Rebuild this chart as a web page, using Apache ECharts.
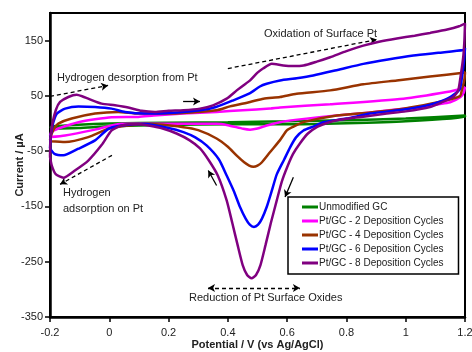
<!DOCTYPE html>
<html>
<head>
<meta charset="utf-8">
<script src="https://cdn.jsdelivr.net/npm/echarts@6/dist/echarts.min.js"></script>
<style>
  html, body { margin: 0; padding: 0; background: #fff; }
  #main { width: 472px; height: 352px; }
</style>
</head>
<body>
<div id="main"></div>
<script>
// cyclic voltammograms, each one a closed loop: anodic sweep (-0.2 -> 1.2 V) then cathodic sweep back
const seriesNames = [
  'Unmodified GC',
  'Pt/GC - 2 Deposition Cycles',
  'Pt/GC - 4 Deposition Cycles',
  'Pt/GC - 6 Deposition Cycles',
  'Pt/GC - 8 Deposition Cycles'
];
const seriesColors = ['#008000', '#ff00ff', '#993300', '#0000ff', '#800080'];

const unmodifiedGC = [
  [-0.2, -8], [-0.19, -5], [-0.104, -2], [0.0, 0], [0.2, 1.5], [0.4, 2.5], [0.6, 4], [0.8, 6], [1.0, 9], [1.2, 14.5],
  [1.2, 12], [1.0, 4], [0.8, 0.5], [0.6, -1.5], [0.4, -1.5], [0.2, -2.5], [0.0, -5], [-0.104, -8], [-0.2, -9]
];

const ptGC2 = [
  [-0.2, -22], [-0.195, -15], [-0.172, -9], [-0.104, 2.5], [0.008, 11.5], [0.098, 12], [0.15, 14.5], [0.25, 18],
  [0.362, 21], [0.45, 24], [0.542, 27], [0.576, 29], [0.745, 35], [0.992, 45], [1.138, 57], [1.194, 64], [1.2, 66],
  [1.196, 56], [1.185, 48], [1.15, 38.5], [1.06, 31], [0.992, 27], [0.88, 20], [0.767, 14.5], [0.65, 8], [0.576, 2.5],
  [0.531, -3.5], [0.5, -9], [0.475, -11], [0.452, -9.5], [0.4, -3], [0.362, -0.5], [0.25, -0.5], [0.15, -0.5],
  [0.042, -0.5], [-0.048, -11], [-0.149, -21.5], [-0.2, -24.5]
];

const ptGC4 = [
  [-0.2, -30], [-0.194, -18], [-0.185, -8], [-0.172, 0], [-0.127, 9], [-0.048, 18], [0.03, 21], [0.098, 18],
  [0.2, 18], [0.3, 21], [0.362, 24], [0.407, 31], [0.475, 39], [0.52, 45], [0.576, 48], [0.632, 54], [0.745, 60],
  [0.857, 71], [0.97, 78], [1.082, 85], [1.194, 92], [1.2, 93],
  [1.198, 80], [1.19, 62], [1.183, 50], [1.138, 42], [1.06, 33], [0.992, 27], [0.88, 20], [0.767, 14.5],
  [0.655, 2.5], [0.62, -6], [0.599, -12.5], [0.576, -30], [0.542, -52], [0.515, -70], [0.5, -76], [0.486, -78],
  [0.472, -76], [0.455, -70], [0.43, -58], [0.4, -42], [0.362, -27], [0.3, -12], [0.25, -6.5], [0.137, -1],
  [0.064, -3.5], [-0.003, -9.5], [-0.071, -24.5], [-0.149, -33.5], [-0.2, -32]
];

const ptGC6 = [
  [-0.2, -45], [-0.197, -20], [-0.19, 0], [-0.177, 18], [-0.149, 27], [-0.104, 31], [-0.048, 30], [0.008, 27],
  [0.053, 21], [0.12, 18], [0.2, 19], [0.306, 24], [0.36, 30], [0.418, 42], [0.475, 55], [0.508, 67], [0.531, 72],
  [0.576, 78], [0.632, 82], [0.688, 87], [0.77, 97], [0.857, 108], [0.94, 116], [1.026, 123], [1.11, 128],
  [1.194, 133], [1.2, 137],
  [1.197, 115], [1.19, 85], [1.182, 62], [1.15, 48], [1.1, 37], [1.048, 30], [0.96, 23], [0.88, 18], [0.8, 9],
  [0.722, 2.5], [0.69, -5], [0.655, -12.5], [0.63, -25], [0.61, -43], [0.59, -65], [0.565, -92], [0.548, -122],
  [0.531, -151], [0.515, -172], [0.502, -183], [0.488, -187], [0.474, -183], [0.46, -172], [0.441, -151],
  [0.42, -122], [0.396, -94], [0.37, -65], [0.329, -40], [0.29, -25], [0.25, -15.5], [0.2, -8], [0.12, -1],
  [0.042, -3.5], [-0.003, -9.5], [-0.048, -30.5], [-0.104, -45.5], [-0.155, -57.5], [-0.185, -55], [-0.2, -45]
];

const ptGC8 = [
  [-0.2, -60], [-0.198, -25], [-0.192, 0], [-0.18, 25], [-0.166, 39], [-0.138, 48], [-0.11, 52], [-0.09, 49],
  [-0.071, 45], [-0.026, 36], [0.019, 33], [0.064, 29], [0.109, 23], [0.154, 21], [0.2, 23], [0.25, 24],
  [0.306, 27], [0.35, 33], [0.396, 45], [0.43, 60], [0.452, 69], [0.475, 78], [0.5, 92], [0.52, 100],
  [0.548, 108], [0.587, 105], [0.62, 104], [0.655, 105], [0.7, 112], [0.745, 120], [0.8, 131], [0.857, 141],
  [0.91, 148], [0.97, 154], [1.03, 159], [1.082, 164], [1.14, 170], [1.18, 176], [1.2, 181],
  [1.198, 150], [1.194, 120], [1.185, 85], [1.177, 60], [1.16, 48], [1.12, 38], [1.082, 30], [1.0, 22],
  [0.936, 18], [0.85, 12], [0.767, 6], [0.73, 0], [0.7, -6.5], [0.67, -18], [0.643, -36], [0.62, -55],
  [0.6, -79], [0.582, -105], [0.565, -139], [0.545, -180], [0.527, -220], [0.51, -256], [0.495, -274],
  [0.48, -280], [0.465, -274], [0.45, -256], [0.433, -220], [0.415, -180], [0.396, -139], [0.366, -94],
  [0.335, -66], [0.306, -45], [0.27, -30], [0.227, -18], [0.18, -9], [0.137, -4], [0.098, -1], [0.042, -3.5],
  [0.008, -12.5], [-0.026, -39], [-0.071, -67], [-0.116, -85], [-0.155, -98], [-0.18, -92], [-0.194, -76], [-0.2, -60]
];

const seriesData = [unmodifiedGC, ptGC2, ptGC4, ptGC6, ptGC8];

// annotation arrows in data coordinates: [from, to, dashed, arrowAtStart]
const dashedArrows = [
  [[-0.2, 49], [-0.004, 69], true, false],
  [[0.4, 99.5], [0.903, 152], true, false],
  [[0.009, -57.5], [-0.166, -110], true, false],
  [[0.333, -297.5], [0.643, -297.5], true, true]
];
const solidArrows = [
  [[0.249, 40], [0.306, 40]],
  [[0.362, -112], [0.334, -85]],
  [[0.621, -97], [0.593, -133]]
];

const xTicks = { min: -0.2, max: 1.2, interval: 0.2 };
const yTicks = { min: -350, max: 200, interval: 100 };

const font = 'Liberation Sans, Arial, sans-serif';
const textColor = '#222';

let chart = echarts.init(document.getElementById('main'));

let arrowLines = [];
for (let i = 0; i < dashedArrows.length; i++) {
  let a = dashedArrows[i];
  arrowLines.push([
    { coord: a[0], symbol: a[3] ? 'arrow' : 'none', lineStyle: { type: [4, 3] } },
    { coord: a[1], symbol: 'arrow' }
  ]);
}
for (let i = 0; i < solidArrows.length; i++) {
  let a = solidArrows[i];
  arrowLines.push([
    { coord: a[0], symbol: 'none', lineStyle: { type: 'solid' } },
    { coord: a[1], symbol: 'arrow' }
  ]);
}

let series = [];
for (let i = 0; i < seriesData.length; i++) {
  let s = {
    name: seriesNames[i],
    type: 'line',
    data: seriesData[i],
    smooth: 0.2,
    symbol: 'none',
    lineStyle: { color: seriesColors[i], width: 2.5 },
    itemStyle: { color: seriesColors[i] },
    z: 2 + i
  };
  if (i == 0) {
    s.markLine = {
      silent: true,
      symbolSize: [6, 7],
      label: { show: false },
      lineStyle: { color: '#000', width: 1.3 },
      data: arrowLines
    };
  }
  series.push(s);
}

let options = {
  animation: false,
  backgroundColor: '#fff',
  grid: {
    left: 50,
    right: 7,
    top: 13,
    bottom: 35,
    outerBoundsMode: 'none',
    containLabel: false,
    show: true,
    borderColor: '#000',
    borderWidth: 2
  },
  legend: {
    orient: 'vertical',
    left: 288,
    top: 197,
    padding: [5, 15, 6, 14],
    itemGap: 4,
    itemWidth: 16,
    itemHeight: 3,
    icon: 'rect',
    borderColor: '#000',
    borderWidth: 1.5,
    borderRadius: 0,
    backgroundColor: '#fff',
    textStyle: { fontFamily: font, fontSize: 10, color: textColor, lineHeight: 10, padding: [0, 0, 0, -4] },
    data: seriesNames
  },
  xAxis: {
    type: 'value',
    min: xTicks.min,
    max: xTicks.max,
    interval: xTicks.interval,
    name: 'Potential / V (vs Ag/AgCl)',
    nameLocation: 'middle',
    nameGap: 22,
    nameMoveOverlap: false,
    nameTextStyle: { fontFamily: font, fontSize: 11, fontWeight: 'bold', color: textColor },
    axisLine: { onZero: false, lineStyle: { color: '#000', width: 2.5 } },
    axisTick: { length: 5, lineStyle: { color: '#000', width: 1.5 } },
    axisLabel: { fontFamily: font, fontSize: 11, color: textColor, margin: 10 },
    splitLine: { show: false }
  },
  yAxis: {
    type: 'value',
    min: yTicks.min,
    max: yTicks.max,
    interval: yTicks.interval,
    name: 'Current / µA',
    nameLocation: 'middle',
    nameGap: 25,
    nameMoveOverlap: false,
    nameTextStyle: { fontFamily: font, fontSize: 11, fontWeight: 'bold', color: textColor },
    axisLine: { onZero: false, lineStyle: { color: '#000', width: 2.5 } },
    axisTick: { length: 5, lineStyle: { color: '#000', width: 1.5 } },
    axisLabel: { fontFamily: font, fontSize: 11, color: textColor, margin: 7, showMaxLabel: false },
    splitLine: { show: false }
  },
  graphic: [
    { type: 'text', left: 57, top: 72, style: { text: 'Hydrogen desorption from Pt', font: '11px ' + font, fill: textColor } },
    { type: 'text', left: 264, top: 28, style: { text: 'Oxidation of Surface Pt', font: '11px ' + font, fill: textColor } },
    { type: 'text', left: 63, top: 185, style: { text: 'Hydrogen\nadsorption on Pt', font: '11px ' + font, fill: textColor, lineHeight: 16 } },
    { type: 'text', left: 189, top: 292, style: { text: 'Reduction of Pt Surface Oxides', font: '11px ' + font, fill: textColor } }
  ],
  series: series
};

chart.setOption(options);
</script>
</body>
</html>
